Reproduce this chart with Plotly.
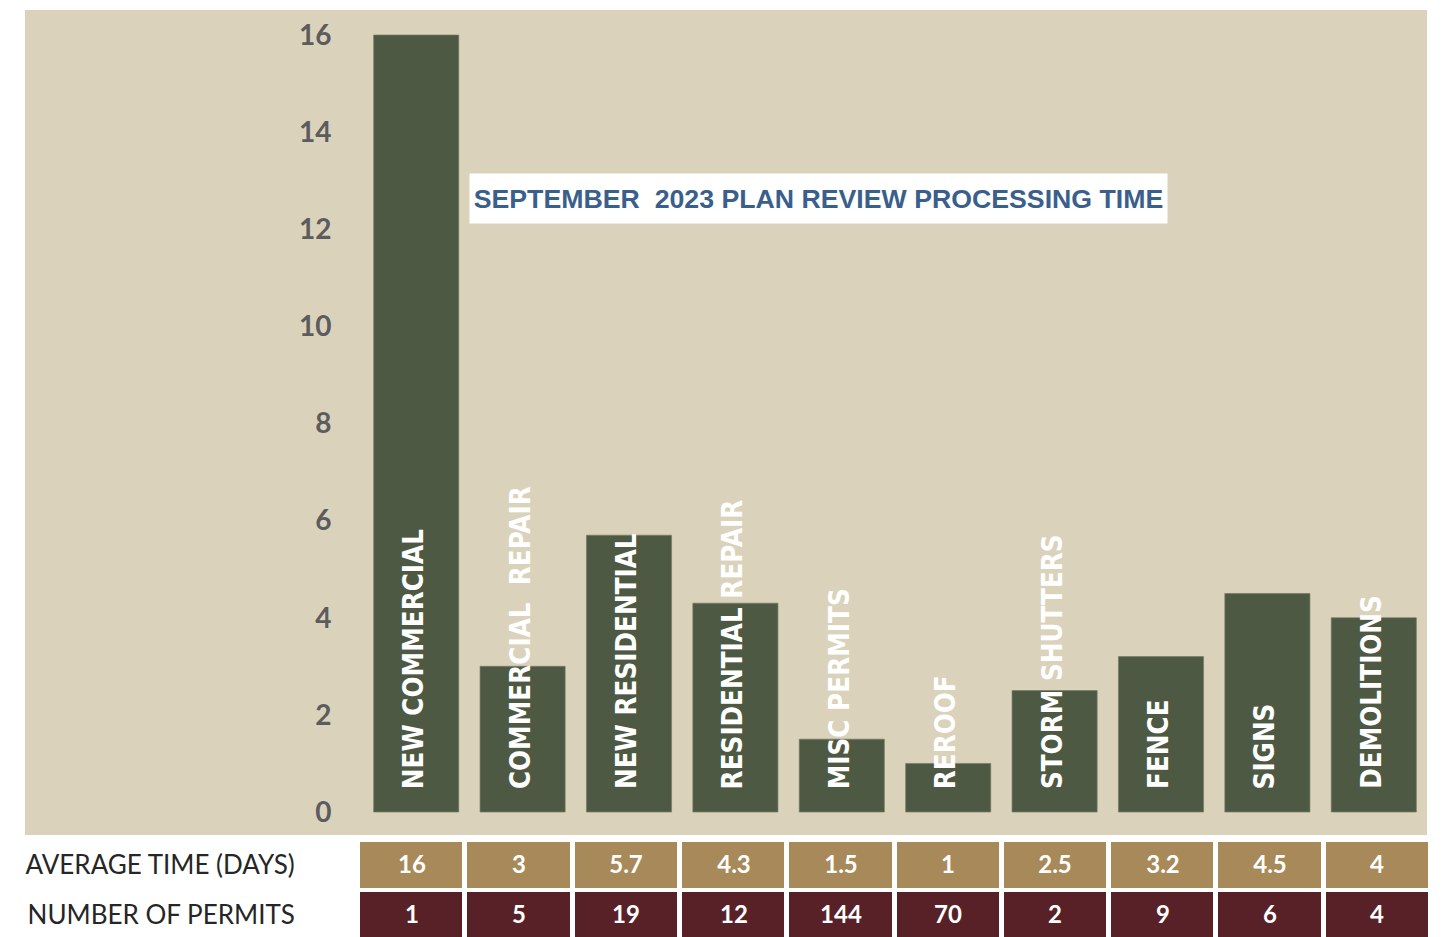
import plotly.graph_objects as go

categories = ["NEW COMMERCIAL", "COMMERCIAL  REPAIR", "NEW RESIDENTIAL", "RESIDENTIAL REPAIR",
              "MISC PERMITS", "REROOF", "STORM SHUTTERS", "FENCE", "SIGNS", "DEMOLITIONS"]
avg_days = [16, 3, 5.7, 4.3, 1.5, 1, 2.5, 3.2, 4.5, 4]
avg_days_labels = ["16", "3", "5.7", "4.3", "1.5", "1", "2.5", "3.2", "4.5", "4"]
num_permits = [1, 5, 19, 12, 144, 70, 2, 9, 6, 4]
y_ticks = [0, 2, 4, 6, 8, 10, 12, 14, 16]
row_labels = ["AVERAGE TIME (DAYS)", "NUMBER OF PERMITS"]
title_text = "SEPTEMBER\u00a0 2023 PLAN REVIEW PROCESSING TIME"

W, H = 1443, 937
BEIGE = "#dad2bb"
BAR = "#4d5942"
TAN = "#a88a5a"
MAROON = "#582128"

xs = list(range(len(categories)))
n = len(categories)

fig = go.Figure()
fig.add_trace(go.Bar(
    x=xs, y=avg_days, width=0.8,
    marker=dict(color=BAR, line=dict(color="rgba(120,126,104,0.7)", width=1)),
    hoverinfo="skip", showlegend=False,
))

# table rendered as a heatmap of cells
fig.add_trace(go.Heatmap(
    x=xs, y=row_labels,
    z=[[0] * n, [1] * n],
    text=[avg_days_labels, [str(v) for v in num_permits]],
    texttemplate="<b>%{text}</b>",
    textfont=dict(family="Lato", size=24, color="white"),
    colorscale=[[0, TAN], [0.5, TAN], [0.5, MAROON], [1, MAROON]],
    zmin=0, zmax=1, showscale=False, xgap=5, ygap=4,
    hoverinfo="skip", xaxis="x2", yaxis="y2",
))

annotations = []
for i, c in enumerate(categories):
    annotations.append(dict(
        x=i, y=0, xref="x", yref="y", text=c, showarrow=False,
        textangle=-90, xanchor="center", yanchor="bottom", yshift=21, xshift=-3,
        font=dict(family="DejaVu Sans Condensed", size=27.5, color="white", weight="bold"),
    ))
annotations.append(dict(
    x=818.5 / W, y=1 - 198 / H, xref="paper", yref="paper", text=title_text,
    showarrow=False, xanchor="center", yanchor="middle", width=695, height=47,
    bgcolor="white", align="center", valign="middle",
    font=dict(family="Liberation Sans, Arial", size=26.7, color="#3a5f8c", weight="bold"),
))

px_per = (812 - 35) / 16
y0 = -(835 - 812) / px_per
y1 = 16 + (35 - 10) / px_per
row_px = 50
t_top = 840
t_bottom_val = -0.5 + (H - t_top) / row_px

fig.update_layout(
    width=W, height=H, margin=dict(l=0, r=0, t=0, b=0),
    paper_bgcolor="white", plot_bgcolor="rgba(0,0,0,0)",
    template="none", showlegend=False, bargap=0.2,
    xaxis=dict(domain=[363 / W, 1427 / W], range=[-0.5, 9.5], showticklabels=False,
               showgrid=False, zeroline=False, showline=False, ticks="", automargin=False),
    yaxis=dict(domain=[1 - 835 / H, 1 - 10 / H], range=[y0, y1], tickvals=y_ticks,
               ticks="outside", ticklen=25, tickcolor="rgba(0,0,0,0)",
               tickfont=dict(family="Lato", size=28, color="#5c5c5e", weight="bold"),
               showgrid=False, zeroline=False, showline=False, automargin=False),
    xaxis2=dict(domain=[358 / W, 1431 / W], range=[-0.5, 9.5], showticklabels=False,
                showgrid=False, zeroline=False, showline=False, ticks="", automargin=False,
                anchor="y2"),
    yaxis2=dict(domain=[0, 1 - t_top / H], range=[t_bottom_val, -0.5], type="category",
                ticks="outside", ticklen=57, tickcolor="rgba(0,0,0,0)",
                tickfont=dict(family="Lato", size=26, color="#262626"),
                showgrid=False, zeroline=False, showline=False, automargin=False,
                anchor="x2"),
    annotations=annotations,
    shapes=[dict(type="rect", xref="paper", yref="paper", x0=25 / W, x1=1427 / W,
                 y0=1 - 835 / H, y1=1 - 10 / H, fillcolor=BEIGE, line=dict(width=0),
                 layer="below")],
)

fig.write_html("out.html", config={"displayModeBar": False},
               post_script="document.body.style.margin='0';document.body.style.overflow='hidden';")
